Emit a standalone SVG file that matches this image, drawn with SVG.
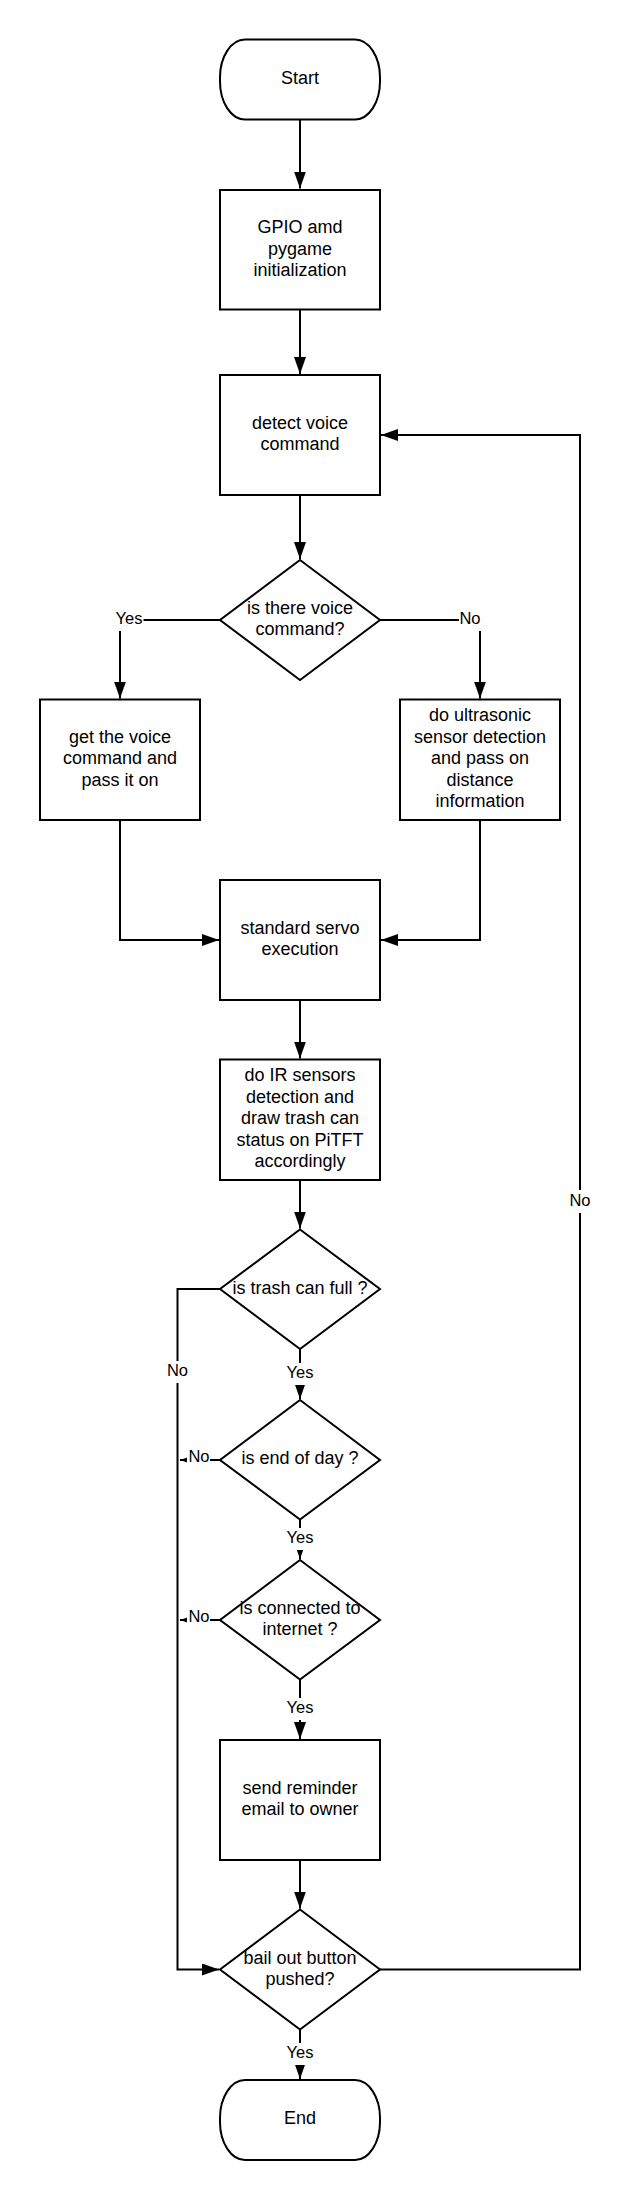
<svg xmlns="http://www.w3.org/2000/svg" width="631" height="2200" viewBox="0 0 631 2200">
<defs>
<style>
.shape{fill:#fff;stroke:#000;stroke-width:2}
.t{font-family:"Liberation Sans",Arial,sans-serif;font-size:18px;fill:#000;text-anchor:middle}
.lbl{font-family:"Liberation Sans",Arial,sans-serif;font-size:16.5px;fill:#000;text-anchor:middle}
.conn{fill:none;stroke:#000;stroke-width:2}
.bg{fill:#fff;stroke:none}
</style>
<marker id="arr" viewBox="0 0 17 12" markerWidth="17" markerHeight="12" refX="17" refY="6" orient="auto" markerUnits="userSpaceOnUse">
<path d="M0,0 L17,6 L0,12 z" fill="#000"/>
</marker>
</defs>
<rect width="631" height="2200" fill="#fff"/>

<g id="connectors">
<path class="conn" d="M300,119 V188.5" marker-end="url(#arr)"/>
<path class="conn" d="M300,310 V374" marker-end="url(#arr)"/>
<path class="conn" d="M300,495 V559" marker-end="url(#arr)"/>
<path class="conn" d="M220,620 H120 V698.5" marker-end="url(#arr)"/>
<path class="conn" d="M380,620 H480 V698.5" marker-end="url(#arr)"/>
<path class="conn" d="M120,820 V940 H219" marker-end="url(#arr)"/>
<path class="conn" d="M480,820 V940 H381" marker-end="url(#arr)"/>
<path class="conn" d="M300,1000 V1058.5" marker-end="url(#arr)"/>
<path class="conn" d="M300,1180 V1228.5" marker-end="url(#arr)"/>
<path class="conn" d="M300,1349 V1399" marker-end="url(#arr)"/>
<path class="conn" d="M220,1289 H177.5 V1969.5 H219" marker-end="url(#arr)"/>
<path class="conn" d="M220,1460 H180" marker-end="url(#arr)"/>
<path class="conn" d="M300,1519.5 V1559" marker-end="url(#arr)"/>
<path class="conn" d="M220,1620 H180" marker-end="url(#arr)"/>
<path class="conn" d="M300,1679.5 V1739" marker-end="url(#arr)"/>
<path class="conn" d="M300,1860 V1908.5" marker-end="url(#arr)"/>
<path class="conn" d="M380,1969.5 H580 V435 H381" marker-end="url(#arr)"/>
<path class="conn" d="M300,2029.5 V2079" marker-end="url(#arr)"/>

<rect class="bg" x="114.5" y="608" width="29" height="23"/>
<text class="lbl" x="129" y="624">Yes</text>
<rect class="bg" x="459" y="608" width="22" height="23"/>
<text class="lbl" x="470" y="624">No</text>
<rect class="bg" x="166.5" y="1361" width="22" height="22"/>
<text class="lbl" x="177.5" y="1375.5">No</text>
<rect class="bg" x="285.5" y="1363" width="29" height="22"/>
<text class="lbl" x="300" y="1378">Yes</text>
<rect class="bg" x="187" y="1447" width="23" height="22"/>
<text class="lbl" x="199" y="1462">No</text>
<rect class="bg" x="285.5" y="1528" width="29" height="22"/>
<text class="lbl" x="300" y="1543">Yes</text>
<rect class="bg" x="187" y="1607" width="23" height="22"/>
<text class="lbl" x="199" y="1622">No</text>
<rect class="bg" x="285.5" y="1698" width="29" height="22"/>
<text class="lbl" x="300" y="1713">Yes</text>
<rect class="bg" x="569" y="1190" width="22" height="23"/>
<text class="lbl" x="580" y="1205.5">No</text>
<rect class="bg" x="285.5" y="2043" width="29" height="22"/>
<text class="lbl" x="300" y="2058">Yes</text>
</g>

<g id="start">
<rect class="shape" x="220" y="39.5" width="160" height="80" rx="25" ry="38"/>
<text class="t" x="300" y="83.5">Start</text>
</g>
<g id="init">
<rect class="shape" x="220" y="190" width="160" height="119.5"/>
<text class="t" x="300" y="233">GPIO amd</text>
<text class="t" x="300" y="254.5">pygame</text>
<text class="t" x="300" y="276">initialization</text>
</g>
<g id="detect">
<rect class="shape" x="220" y="375" width="160" height="120"/>
<text class="t" x="300" y="428.5">detect voice</text>
<text class="t" x="300" y="449.5">command</text>
</g>
<g id="d_voice">
<polygon class="shape" points="300,560 380,620 300,680 220,620"/>
<text class="t" x="300" y="613.5">is there voice</text>
<text class="t" x="300" y="634.5">command?</text>
</g>
<g id="get_cmd">
<rect class="shape" x="40" y="699.5" width="160" height="120.5"/>
<text class="t" x="120" y="742.5">get the voice</text>
<text class="t" x="120" y="764">command and</text>
<text class="t" x="120" y="785.5">pass it on</text>
</g>
<g id="ultrasonic">
<rect class="shape" x="400" y="699.5" width="160" height="120.5"/>
<text class="t" x="480" y="721">do ultrasonic</text>
<text class="t" x="480" y="742.5">sensor detection</text>
<text class="t" x="480" y="764">and pass on</text>
<text class="t" x="480" y="785.5">distance</text>
<text class="t" x="480" y="807">information</text>
</g>
<g id="servo">
<rect class="shape" x="220" y="880" width="160" height="120"/>
<text class="t" x="300" y="933.5">standard servo</text>
<text class="t" x="300" y="954.5">execution</text>
</g>
<g id="ir">
<rect class="shape" x="220" y="1059.5" width="160" height="120.5"/>
<text class="t" x="300" y="1081">do IR sensors</text>
<text class="t" x="300" y="1102.5">detection and</text>
<text class="t" x="300" y="1124">draw trash can</text>
<text class="t" x="300" y="1145.5">status on PiTFT</text>
<text class="t" x="300" y="1167">accordingly</text>
</g>
<g id="d_full">
<polygon class="shape" points="300,1229.5 380,1289 300,1349 220,1289"/>
<text class="t" x="300" y="1294">is trash can full ?</text>
</g>
<g id="d_day">
<polygon class="shape" points="300,1400 380,1460 300,1519.5 220,1460"/>
<text class="t" x="300" y="1464">is end of day ?</text>
</g>
<g id="d_net">
<polygon class="shape" points="300,1560 380,1620 300,1679.5 220,1620"/>
<text class="t" x="300" y="1613.5">is connected to</text>
<text class="t" x="300" y="1634.5">internet ?</text>
</g>
<g id="email">
<rect class="shape" x="220" y="1740" width="160" height="120"/>
<text class="t" x="300" y="1793.5">send reminder</text>
<text class="t" x="300" y="1814.5">email to owner</text>
</g>
<g id="d_bail">
<polygon class="shape" points="300,1909.5 380,1969.5 300,2029.5 220,1969.5"/>
<text class="t" x="300" y="1963.5">bail out button</text>
<text class="t" x="300" y="1984.5">pushed?</text>
</g>
<g id="end">
<rect class="shape" x="220" y="2080" width="160" height="80" rx="25" ry="38"/>
<text class="t" x="300" y="2123.5">End</text>
</g>
</svg>
